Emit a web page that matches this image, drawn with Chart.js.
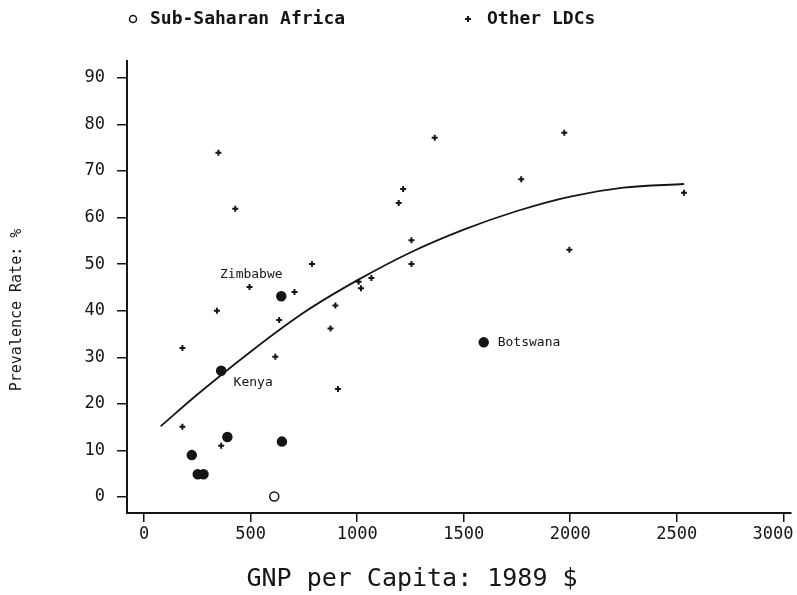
<!DOCTYPE html>
<html>
<head>
<meta charset="utf-8">
<script src="https://cdn.jsdelivr.net/npm/chart.js@4.4.0/dist/chart.umd.min.js"></script>
<style>
  html, body { margin: 0; padding: 0; background: #fff; }
</style>
</head>
<body>
<canvas id="myChart" width="797" height="595"></canvas>
<script>
// Data ===================================================================
var ssaX = [644, 362, 391, 224, 252, 279, 647, 1594, 611];
var ssaY = [43.1, 27.1, 12.9, 9.0, 4.9, 4.9, 11.9, 33.2, 0.1];
var ssaNames = ['Zimbabwe', 'Kenya', '', '', '', '', '', 'Botswana', ''];

var ldcX = [349, 428, 1216, 1195, 1255, 1255, 788, 495, 706, 1067, 1007, 1018,
            898, 342, 634, 875, 180, 616, 910, 180, 362, 1364, 1972, 1770, 2534, 1996];
var ldcY = [73.9, 61.9, 66.1, 63.1, 55.1, 50.0, 50.0, 45.1, 44.0, 47.0, 46.2, 44.8,
            41.1, 40.0, 38.0, 36.2, 32.0, 30.1, 23.2, 15.1, 11.0, 77.1, 78.2, 68.2, 65.3, 53.1];

// fitted curve, read at a few points along the drawn line
var fitX = [78, 250, 500, 750, 1000, 1250, 1500, 1750, 2000, 2250, 2534];
var fitY = [15.2, 22.0, 31.2, 39.6, 46.5, 52.5, 57.4, 61.4, 64.5, 66.4, 67.2];

var xTicks = [0, 500, 1000, 1500, 2000, 2500, 3000];
var yTicks = [0, 10, 20, 30, 40, 50, 60, 70, 80, 90];

var seriesNames = ['Sub-Saharan Africa', 'Other LDCs'];
var xTitle = 'GNP per Capita: 1989 $';
var yTitle = 'Prevalence Rate: %';

// Setup ==================================================================
var ink = '#151515';
var mono = 'DejaVu Sans Mono';

function toPoints(xs, ys) {
  return xs.map(function(x, i) { return { x: x, y: ys[i] }; });
}

// where the country names sit relative to their dot
var nameOffsets = {
  'Zimbabwe': { dx: -30, dy: -22, align: 'center' },
  'Kenya':    { dx: 32,  dy: 12,  align: 'center' },
  'Botswana': { dx: 14,  dy: 0,   align: 'left' }
};

var extras = {
  id: 'extras',
  afterDraw: function(chart) {
    var c = chart.ctx;
    c.save();
    c.fillStyle = ink;
    c.strokeStyle = ink;
    c.textBaseline = 'middle';

    // country names
    c.font = '13px "' + mono + '"';
    var meta = chart.getDatasetMeta(0);
    meta.data.forEach(function(el, i) {
      var name = ssaNames[i];
      if (!name) return;
      var off = nameOffsets[name];
      c.textAlign = off.align;
      c.fillText(name, el.x + off.dx, el.y + off.dy);
    });

    // legend
    c.font = 'bold 18px "' + mono + '"';
    c.textAlign = 'left';
    c.lineWidth = 1.5;
    c.beginPath();
    c.arc(133, 19, 3.5, 0, Math.PI * 2);
    c.stroke();
    c.fillText(seriesNames[0], 150, 19);
    c.lineWidth = 2;
    c.beginPath();
    c.moveTo(465, 19); c.lineTo(471, 19);
    c.moveTo(468, 16); c.lineTo(468, 22);
    c.stroke();
    c.fillText(seriesNames[1], 487, 19);

    // axis titles
    c.font = '25px "' + mono + '"';
    c.textAlign = 'center';
    c.fillText(xTitle, 412, 579);
    c.font = '15px "' + mono + '"';
    c.translate(17, 310);
    c.rotate(-Math.PI / 2);
    c.fillText(yTitle, 0, 0);
    c.restore();
  }
};

function plain(v) { return String(v); }

// last x label is nudged left so it isn't cut at the edge
function xLabel(v, i) {
  return i === xTicks.length - 1 ? String(v) + '  ' : String(v);
}

var chart = new Chart(document.getElementById('myChart').getContext('2d'), {
  type: 'scatter',
  data: {
    datasets: [{
      label: seriesNames[0],
      data: toPoints(ssaX, ssaY),
      pointStyle: 'circle',
      pointRadius: 4.5,
      borderWidth: 1.5,
      borderColor: ink,
      // the last one is drawn hollow
      backgroundColor: function(ctx) { return ctx.dataIndex === ssaX.length - 1 ? '#fff' : ink; }
    }, {
      label: seriesNames[1],
      data: toPoints(ldcX, ldcY),
      pointStyle: 'cross',
      pointRadius: 3,
      borderWidth: 2,
      borderColor: ink
    }, {
      label: 'fit',
      data: toPoints(fitX, fitY),
      showLine: true,
      pointRadius: 0,
      borderWidth: 1.8,
      borderColor: ink,
      cubicInterpolationMode: 'monotone'
    }]
  },
  options: {
    responsive: false,
    animation: false,
    layout: { padding: { top: 61, left: 0, right: 0, bottom: 0 } },
    plugins: { legend: { display: false }, tooltip: { enabled: false } },
    scales: {
      x: {
        type: 'linear',
        min: -80,
        max: 3036,
        afterBuildTicks: function(s) { s.ticks = xTicks.map(function(v) { return { value: v }; }); },
        afterFit: function(s) { s.height = 82; s.paddingLeft = 0; s.paddingRight = 0; },
        grid: { drawOnChartArea: false, drawTicks: true, tickLength: 9, color: ink, lineWidth: 1.5 },
        border: { color: ink, width: 2 },
        ticks: { font: { family: mono, size: 17 }, color: ink, padding: 2, maxRotation: 0, autoSkip: false, callback: xLabel }
      },
      y: {
        type: 'linear',
        min: -3.43,
        max: 93.6,
        afterBuildTicks: function(s) { s.ticks = yTicks.map(function(v) { return { value: v }; }); },
        afterFit: function(s) { s.width = 127; },
        grid: { drawOnChartArea: false, drawTicks: true, tickLength: 10, color: ink, lineWidth: 1.5 },
        border: { color: ink, width: 2 },
        ticks: { font: { family: mono, size: 17 }, color: ink, padding: 12, autoSkip: false, callback: plain }
      }
    }
  },
  plugins: [extras]
});
</script>
</body>
</html>
